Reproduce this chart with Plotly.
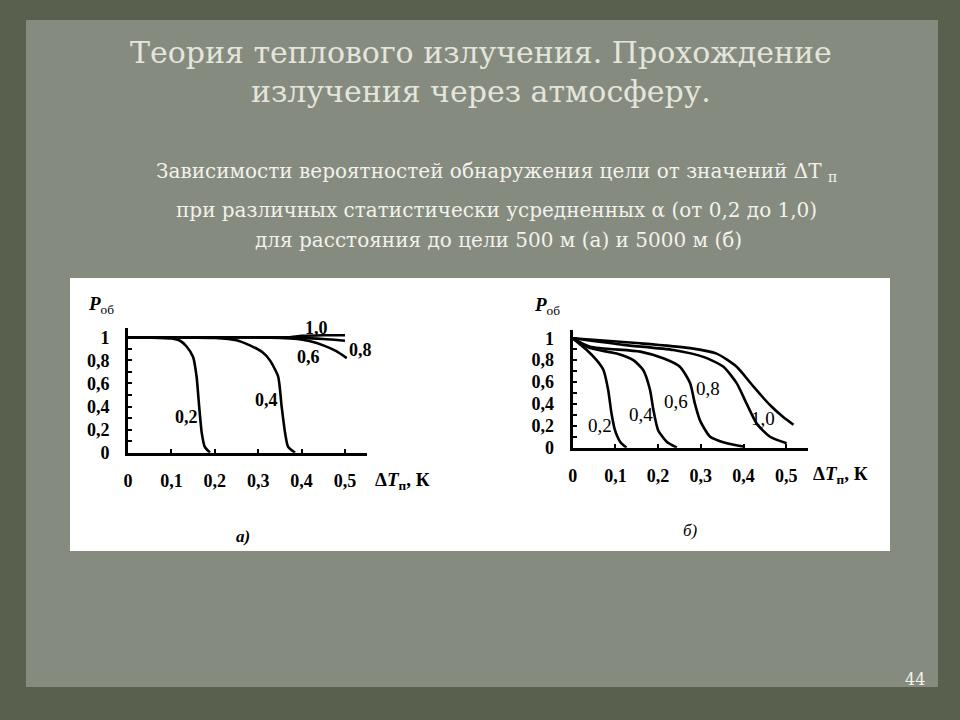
import plotly.graph_objects as go

# ---------------- data ----------------
# Chart (a): 500 m
a_x_02 = [0, 0.05, 0.10, 0.12, 0.135, 0.150, 0.158, 0.164, 0.170, 0.177, 0.189]
a_y_02 = [1.0, 0.998, 0.99, 0.97, 0.92, 0.83, 0.66, 0.40, 0.17, 0.05, 0.0]
a_x_04 = [0, 0.10, 0.20, 0.25, 0.281, 0.310, 0.327, 0.346, 0.354, 0.362, 0.369, 0.385]
a_y_04 = [1.0, 1.0, 0.995, 0.975, 0.93, 0.87, 0.80, 0.66, 0.40, 0.17, 0.05, 0.0]
a_x_06 = [0, 0.20, 0.35, 0.39, 0.42, 0.45, 0.48, 0.504]
a_y_06 = [1.0, 1.0, 0.995, 0.985, 0.965, 0.93, 0.88, 0.82]
a_x_08 = [0, 0.30, 0.40, 0.45, 0.50]
a_y_08 = [1.0, 1.0, 0.995, 0.985, 0.97]
a_x_10 = [0, 0.30, 0.37, 0.40, 0.45, 0.50]
a_y_10 = [1.0, 1.0, 1.0, 1.012, 1.018, 1.018]

# Chart (б): 5000 m
b_x_02 = [0, 0.033, 0.056, 0.072, 0.083, 0.091, 0.099, 0.111, 0.126]
b_y_02 = [1.0, 0.893, 0.80, 0.71, 0.53, 0.31, 0.16, 0.055, 0.0]
b_x_04 = [0, 0.041, 0.103, 0.142, 0.165, 0.181, 0.189, 0.200, 0.220, 0.244]
b_y_04 = [1.0, 0.91, 0.86, 0.80, 0.71, 0.53, 0.345, 0.16, 0.055, 0.0]
b_x_06 = [0, 0.041, 0.158, 0.212, 0.251, 0.275, 0.286, 0.298, 0.322, 0.361, 0.40]
b_y_06 = [1.0, 0.923, 0.878, 0.817, 0.74, 0.59, 0.405, 0.25, 0.10, 0.04, 0.01]
b_x_08 = [0, 0.119, 0.236, 0.306, 0.353, 0.384, 0.407, 0.431, 0.462, 0.501]
b_y_08 = [1.0, 0.94, 0.893, 0.83, 0.74, 0.59, 0.405, 0.22, 0.10, 0.04]
b_x_10 = [0, 0.158, 0.275, 0.337, 0.384, 0.423, 0.462, 0.493, 0.517]
b_y_10 = [1.0, 0.954, 0.91, 0.86, 0.74, 0.56, 0.39, 0.28, 0.21]

x_tickvals = [0, 0.1, 0.2, 0.3, 0.4, 0.5]
x_ticktext = ["0", "0,1", "0,2", "0,3", "0,4", "0,5"]
y_tickvals = [0, 0.2, 0.4, 0.6, 0.8, 1.0]
y_ticktext = ["0", "0,2", "0,4", "0,6", "0,8", "1"]

a_labels = ["0,2", "0,4", "0,6", "0,8", "1,0"]
a_label_x = [0.135, 0.32, 0.415, 0.535, 0.435]
a_label_y = [0.31, 0.457, 0.83, 0.89, 1.078]
b_labels = ["0,2", "0,4", "0,6", "0,8", "1,0"]
b_label_x = [0.064, 0.16, 0.243, 0.318, 0.446]
b_label_y = [0.20, 0.30, 0.42, 0.54, 0.27]

# ---------------- figure ----------------
W, H = 960, 720
def px(x): return x / W
def py(y): return 1 - y / H

SERIF = "Liberation Serif, Times New Roman, serif"
SLIDE = "DejaVu Serif, serif"
fig = go.Figure()

curves_a = [(a_x_02, a_y_02), (a_x_04, a_y_04), (a_x_06, a_y_06), (a_x_08, a_y_08), (a_x_10, a_y_10)]
curves_b = [(b_x_02, b_y_02), (b_x_04, b_y_04), (b_x_06, b_y_06), (b_x_08, b_y_08), (b_x_10, b_y_10)]
for xs, ys in curves_a:
    fig.add_trace(go.Scatter(x=xs, y=ys, mode="lines", xaxis="x", yaxis="y",
                             line=dict(color="black", width=2.6, shape="spline", smoothing=0.6),
                             showlegend=False, hoverinfo="skip"))
for xs, ys in curves_b:
    fig.add_trace(go.Scatter(x=xs, y=ys, mode="lines", xaxis="x2", yaxis="y2",
                             line=dict(color="black", width=2.6, shape="spline", smoothing=0.6),
                             showlegend=False, hoverinfo="skip"))

ax_common = dict(showgrid=False, zeroline=False, showline=True, linecolor="black", linewidth=3,
                 ticks="inside", tickcolor="black", ticklen=4, tickwidth=2,
                 tickfont=dict(family=SERIF, size=18, color="black", weight="bold"))

a_x0, a_x1 = 128, 128 + 0.55 * 434
a_y0 = 452.7
a_y1 = a_y0 - 1.08 * 115.4
b_x0, b_x1 = 572.7, 572.7 + 0.55 * 427
b_y0 = 447.7
b_y1 = b_y0 - 1.08 * 109.4

fig.update_layout(
    width=W, height=H, autosize=False,
    margin=dict(l=0, r=0, t=0, b=0, autoexpand=False),
    paper_bgcolor="#59604e",
    plot_bgcolor="rgba(0,0,0,0)",
    showlegend=False,
    xaxis=dict(domain=[px(a_x0), px(a_x1)], range=[0, 0.55], anchor="y",
               tickvals=x_tickvals, ticktext=x_ticktext, ticklabelstandoff=10, **ax_common),
    yaxis=dict(domain=[py(a_y0), py(a_y1)], range=[0, 1.08], anchor="x",
               tickvals=y_tickvals, ticktext=y_ticktext, ticklabelstandoff=12,
               minor=dict(ticks="inside", dtick=0.1, ticklen=4, tickcolor="black"), **ax_common),
    xaxis2=dict(domain=[px(b_x0), px(b_x1)], range=[0, 0.55], anchor="y2",
                tickvals=x_tickvals, ticktext=x_ticktext, ticklabelstandoff=10, **ax_common),
    yaxis2=dict(domain=[py(b_y0), py(b_y1)], range=[0, 1.08], anchor="x2",
                tickvals=y_tickvals, ticktext=y_ticktext, ticklabelstandoff=12,
                minor=dict(ticks="inside", dtick=0.1, ticklen=4, tickcolor="black"), **ax_common),
)

fig.add_shape(type="rect", xref="paper", yref="paper", layer="below",
              x0=px(26), x1=px(938), y0=py(687), y1=py(20),
              fillcolor="#868b7f", line=dict(width=0))
fig.add_shape(type="rect", xref="paper", yref="paper", layer="below",
              x0=px(70), x1=px(890), y0=py(551), y1=py(278),
              fillcolor="white", line=dict(width=0))

ann = []
title_col = "#e4e5dc"
ann.append(dict(text="Теория теплового излучения. Прохождение<br>излучения через атмосферу.",
                x=px(481), y=py(72), xref="paper", yref="paper", showarrow=False,
                font=dict(family=SLIDE, size=30, color=title_col), align="center",
                yanchor="middle", xanchor="center"))
ann.append(dict(text="Зависимости вероятностей обнаружения цели от значений ΔT <sub>п</sub>",
                x=px(496), y=py(172), xref="paper", yref="paper", showarrow=False,
                font=dict(family=SLIDE, size=20, color="#f2f2ec"), xanchor="center", yanchor="middle"))
ann.append(dict(text="при различных статистически усредненных α (от 0,2 до 1,0)",
                x=px(496), y=py(210), xref="paper", yref="paper", showarrow=False,
                font=dict(family=SLIDE, size=20, color="#f2f2ec"), xanchor="center", yanchor="middle"))
ann.append(dict(text="для расстояния до цели 500 м (а) и 5000 м (б)",
                x=px(498), y=py(240), xref="paper", yref="paper", showarrow=False,
                font=dict(family=SLIDE, size=20, color="#f2f2ec"), xanchor="center", yanchor="middle"))
ann.append(dict(text="44", x=px(915), y=py(679), xref="paper", yref="paper", showarrow=False,
                font=dict(family=SLIDE, size=16, color="#f2f2ec"), xanchor="center", yanchor="middle"))

for (xx, yy) in [(101, 305), (547, 306)]:
    ann.append(dict(text="<b><i>P</i></b><sub>об</sub>", x=px(xx), y=py(yy), xref="paper", yref="paper",
                    showarrow=False, font=dict(family=SERIF, size=19, color="black"),
                    xanchor="center", yanchor="middle"))
for (xx, yy) in [(402, 481), (840, 475)]:
    ann.append(dict(text="<b>Δ<i>T</i><sub>п</sub>, К</b>", x=px(xx), y=py(yy), xref="paper", yref="paper",
                    showarrow=False, font=dict(family=SERIF, size=19, color="black"),
                    xanchor="center", yanchor="middle"))
ann.append(dict(text="<b><i>а)</i></b>", x=px(243), y=py(536), xref="paper", yref="paper", showarrow=False,
                font=dict(family=SERIF, size=17, color="black"), xanchor="center", yanchor="middle"))
ann.append(dict(text="<i>б)</i>", x=px(690), y=py(530), xref="paper", yref="paper", showarrow=False,
                font=dict(family=SERIF, size=17, color="black"), xanchor="center", yanchor="middle"))

for t, xx, yy in zip(a_labels, a_label_x, a_label_y):
    ann.append(dict(text="<b>" + t + "</b>", x=xx, y=yy, xref="x", yref="y", showarrow=False,
                    font=dict(family=SERIF, size=18, color="black"), xanchor="center", yanchor="middle"))
for t, xx, yy in zip(b_labels, b_label_x, b_label_y):
    ann.append(dict(text=t, x=xx, y=yy, xref="x2", yref="y2", showarrow=False,
                    font=dict(family=SERIF, size=19, color="black"), xanchor="center", yanchor="middle"))

fig.update_layout(annotations=ann)
fig.write_html("out.html",
               config={"displayModeBar": False, "responsive": False},
               post_script="document.documentElement.style.margin='0';document.body.style.margin='0';"
                           "document.documentElement.style.overflow='hidden';document.body.style.overflow='hidden';")
